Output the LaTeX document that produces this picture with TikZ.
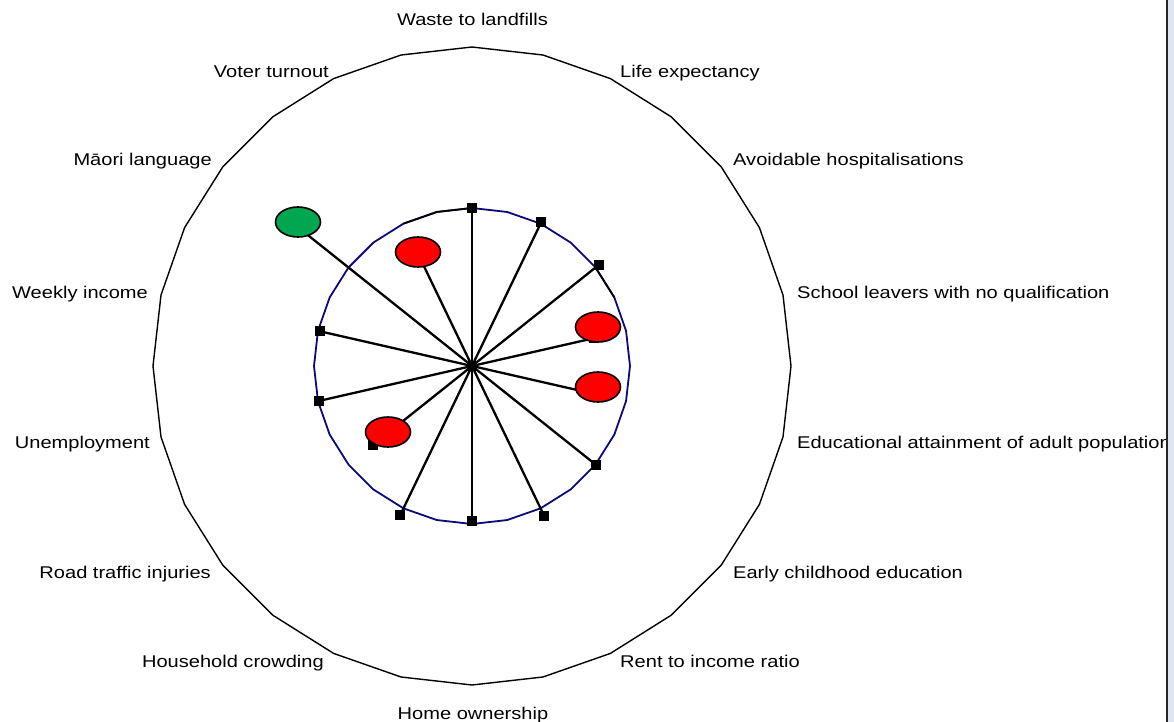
\documentclass[tikz,border=0pt]{standalone}
\usepackage{fontspec}
\setmainfont{Liberation Sans}
\usepackage{graphicx}
\usetikzlibrary{calc,shapes.geometric}
\definecolor{navyline}{RGB}{10,10,120}
\definecolor{dotred}{RGB}{255,0,0}
\definecolor{dotgreen}{RGB}{0,166,80}
\definecolor{edgeblue}{RGB}{222,230,242}
\newcommand{\lbl}[1]{\scalebox{1.18}[1]{#1}}
\begin{document}
\begin{tikzpicture}[x=1pt,y=-1pt,
  outerline/.style={line width=1.4pt, black, line join=miter},
  ringline/.style={line width=1.8pt, navyline},
  ringblack/.style={line width=1.8pt, black},
  spoke/.style={line width=2.3pt, black},
  marker/.style={rectangle, fill=black, minimum size=10pt, inner sep=0pt},
  dot/.style={ellipse, draw=black, line width=1.6pt, minimum width=45pt, minimum height=30pt, inner sep=0pt},
  lab/.style={font=\fontsize{17}{20}\selectfont, inner sep=0pt, text=black}]
\useasboundingbox (0,0) rectangle (1174,722);
\fill[white] (0,0) rectangle (1174,722);
\coordinate (C) at (472,366);
% outer 28-gon
\draw[outerline] ($(C)+(-90:319)$) \foreach \k in {1,...,27}{ -- ($(C)+({\k*360/28-90}:319)$) } -- cycle;
% navy ring
\draw[ringline] ($(C)+(-90:158)$) \foreach \k in {1,...,27}{ -- ($(C)+({\k*360/28-90}:158)$) } -- cycle;
\draw[ringblack] ($(C)+({-2*360/28-90}:158)$) -- ($(C)+({-360/28-90}:158)$) -- ($(C)+(-90:158)$);
\draw[ringblack] ($(C)+({4*360/28-90}:158)$) -- ($(C)+({5*360/28-90}:158)$);
% data points
\foreach \i/\r in {1/158,2/160,3/162,4/125,5/125,6/159,7/167,8/155,9/165,10/127,11/157,12/156,13/222,14/118}{
  \coordinate (d\i) at ($(C)+({(\i-1)*360/14-90}:\r)$);
}
\foreach \i in {1,...,14}{ \draw[spoke] (C) -- (d\i); }
\foreach \i in {1,...,14}{ \node[marker] (m\i) at (d\i) {}; }
\node[marker] (cm) at (C) {};
% status ellipses
\node[dot, fill=dotred] (e4) at (598,327) {};
\node[dot, fill=dotred] (e5) at (598,387) {};
\node[dot, fill=dotred] (e10) at (388,432) {};
\node[dot, fill=dotgreen] (e13) at (298,222) {};
\node[dot, fill=dotred] (e14) at (418,252) {};
% labels
\node[lab, anchor=base] (l1) at (472.5,26) {\lbl{Waste to landfills}};
\node[lab, anchor=base west] (l2) at (620,78) {\lbl{Life expectancy}};
\node[lab, anchor=base west] (l3) at (733,166) {\lbl{Avoidable hospitalisations}};
\node[lab, anchor=base west] (l4) at (797,298) {\lbl{School leavers with no qualification}};
\node[lab, anchor=base west] (l5) at (797,448) {\lbl{Educational attainment of adult population}};
\node[lab, anchor=base west] (l6) at (733,578) {\lbl{Early childhood education}};
\node[lab, anchor=base west] (l7) at (620,667) {\lbl{Rent to income ratio}};
\node[lab, anchor=base] (l8) at (473,719) {\lbl{Home ownership}};
\node[lab, anchor=base east] (l9) at (324,667) {\lbl{Household crowding}};
\node[lab, anchor=base east] (l10) at (211,578) {\lbl{Road traffic injuries}};
\node[lab, anchor=base east] (l11) at (150,448) {\lbl{Unemployment}};
\node[lab, anchor=base east] (l12) at (148,298) {\lbl{Weekly income}};
\node[lab, anchor=base east] (l13) at (212,166) {\lbl{Māori language}};
\node[lab, anchor=base east] (l14) at (329,78) {\lbl{Voter turnout}};
% right window edge
\fill[edgeblue] (1168,0) rectangle (1174,722);
\draw[line width=2pt, black!85] (1167,0) -- (1167,722);
\end{tikzpicture}
\end{document}
